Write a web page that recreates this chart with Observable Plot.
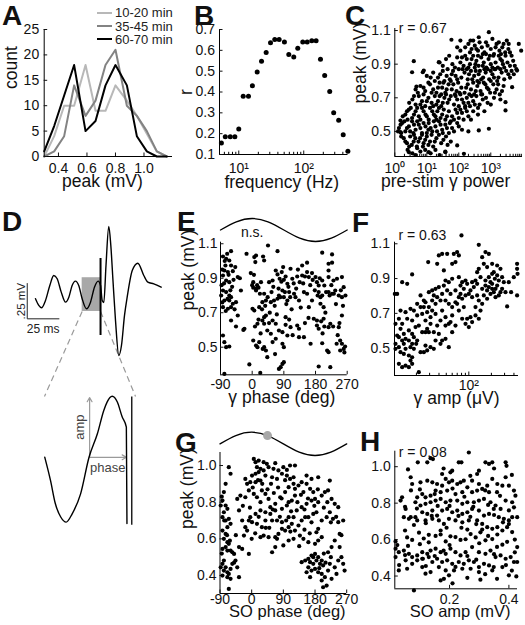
<!DOCTYPE html>
<html><head><meta charset="utf-8">
<script src="https://cdn.jsdelivr.net/npm/d3@7"></script>
<script src="https://cdn.jsdelivr.net/npm/@observablehq/plot@0.6"></script>
<style>
html,body{margin:0;padding:0;background:#fff;}
#root{position:relative;width:525px;height:625px;overflow:hidden;font-family:"Liberation Sans",Arial,Helvetica,sans-serif;}
#root svg{position:absolute;left:0;top:0;background:transparent !important;}
.letter{position:absolute;font-weight:bold;font-size:28px;line-height:28px;color:#111;}
.leg{position:absolute;font-size:13px;line-height:13px;color:#222;white-space:nowrap;}
.legline{position:absolute;height:2px;width:15px;}
</style></head><body><div id="root"></div>
<script>
// ---------------- DATA ----------------
// A: histogram of peak (mV)
const histBins = [0.30,0.37,0.44,0.51,0.59,0.66,0.73,0.80,0.88,0.95,1.02,1.09,1.16];
const count10to20 = [0,4,10,10,18,9,9,14,11,8,4.5,1,0];
const count35to45 = [0,1,4,14,8,11,18,21,10,8,5,1,0];
const count60to70 = [1,6,12,18,5,7,14,18,14,4,1,0,0];
const seriesNames = ["10-20 min","35-45 min","60-70 min"];
const seriesColors = ["#b8b8b8","#838383","#000000"];

// B: correlation vs frequency
const freqHz = [5.4,6.2,7.4,8.7,10,11.7,14.1,16.2,19.2,22.4,26.4,30.8,35.8,41.8,50.4,58.9,70.2,80.9,96.6,113,133,155,181,210,251,289,345,405,478];
const corrR = [0.155,0.185,0.185,0.185,0.223,0.38,0.38,0.43,0.496,0.548,0.59,0.636,0.652,0.652,0.64,0.58,0.568,0.61,0.64,0.64,0.646,0.646,0.557,0.479,0.403,0.3,0.264,0.195,0.116];
const bMajorTicks = [10,100];
const bMinorTicks = [6,7,8,9,20,30,40,50,60,70,80,90,200,300,400];

// C: [log10 pre-stim gamma power, peak mV]
const cPoints = [
[2.2,1.0],[2.35,0.97],[2.5,1.01],[2.6,0.98],[2.72,1.0],[2.8,0.97],[2.9,1.01],[3.0,0.99],[3.1,0.96],[3.18,1.02],[3.27,0.98],[3.36,1.0],[3.45,0.97],[3.55,0.99],[3.25,1.03],[2.45,1.04],[3.05,1.05],[2.65,1.03],[2.05,0.98],[1.95,1.0],
[1.6,0.93],[1.8,0.9],[1.95,0.94],[2.05,0.91],[2.15,0.89],[2.25,0.93],[2.35,0.9],[2.45,0.95],[2.55,0.92],[2.62,0.89],[2.7,0.94],[2.78,0.91],[2.86,0.88],[2.93,0.93],[3.0,0.9],[3.08,0.95],[3.15,0.91],[3.22,0.88],[3.3,0.93],[3.38,0.9],[3.46,0.95],[3.52,0.91],[3.6,0.89],[3.7,0.92],[3.8,0.87],[1.4,0.91],[2.5,0.88],[3.12,0.87],[2.2,0.95],[2.85,0.96],
[1.2,0.85],[1.35,0.82],[1.5,0.86],[1.62,0.83],[1.72,0.81],[1.82,0.86],[1.9,0.83],[2.0,0.87],[2.08,0.82],[2.18,0.85],[2.28,0.81],[2.38,0.86],[2.48,0.83],[2.58,0.8],[2.66,0.86],[2.76,0.82],[2.84,0.85],[2.95,0.81],[3.05,0.84],[3.14,0.87],[3.24,0.82],[3.34,0.85],[3.42,0.81],[3.55,0.84],[3.65,0.86],[1.55,0.8],[2.25,0.87],[2.9,0.87],[3.2,0.8],[1.0,0.83],
[0.8,0.77],[0.95,0.74],[1.1,0.78],[1.2,0.75],[1.3,0.73],[1.4,0.79],[1.48,0.76],[1.58,0.73],[1.68,0.78],[1.78,0.75],[1.88,0.72],[1.98,0.79],[2.08,0.76],[2.18,0.73],[2.28,0.78],[2.38,0.75],[2.48,0.72],[2.58,0.77],[2.68,0.74],[2.78,0.79],[2.88,0.76],[2.98,0.73],[3.08,0.78],[3.18,0.75],[3.28,0.72],[3.4,0.77],[1.05,0.79],[1.75,0.8],[2.45,0.79],[3.0,0.8],[0.65,0.75],[1.25,0.8],
[0.55,0.69],[0.65,0.66],[0.75,0.71],[0.85,0.68],[0.95,0.65],[1.05,0.7],[1.15,0.67],[1.25,0.71],[1.35,0.68],[1.45,0.65],[1.55,0.7],[1.65,0.67],[1.75,0.71],[1.85,0.66],[1.95,0.69],[2.05,0.72],[2.15,0.67],[2.25,0.7],[2.35,0.65],[2.45,0.68],[2.55,0.71],[2.65,0.66],[2.75,0.69],[2.9,0.67],[3.1,0.7],[3.3,0.69],[0.9,0.72],[1.6,0.72],[2.0,0.65],[2.6,0.64],
[0.33,0.6],[0.44,0.63],[0.54,0.58],[0.65,0.62],[0.75,0.59],[0.85,0.64],[0.96,0.6],[1.06,0.57],[1.17,0.62],[1.27,0.59],[1.38,0.64],[1.48,0.6],[1.58,0.57],[1.69,0.62],[1.79,0.59],[1.9,0.63],[2.0,0.58],[2.1,0.61],[2.2,0.64],[2.3,0.59],[2.45,0.62],[2.6,0.6],[2.8,0.62],[0.5,0.64],[1.1,0.64],[1.75,0.56],[0.4,0.57],[1.3,0.57],[2.15,0.57],
[0.13,0.52],[0.23,0.55],[0.33,0.5],[0.44,0.53],[0.54,0.56],[0.65,0.51],[0.75,0.54],[0.85,0.49],[0.96,0.53],[1.06,0.55],[1.17,0.5],[1.27,0.53],[1.38,0.56],[1.48,0.51],[1.58,0.54],[1.69,0.49],[1.79,0.52],[1.95,0.55],[2.1,0.51],[2.3,0.5],[0.3,0.56],[0.7,0.56],[1.0,0.49],[1.5,0.49],[0.2,0.49],
[0.28,0.46],[0.38,0.43],[0.48,0.47],[0.59,0.44],[0.69,0.41],[0.79,0.46],[0.9,0.43],[1.0,0.47],[1.1,0.44],[1.2,0.41],[1.3,0.46],[1.45,0.43],[1.6,0.47],[1.75,0.44],[0.45,0.41],[0.85,0.48],[1.15,0.48],[0.6,0.48],
[0.4,0.39],[0.55,0.37],[0.7,0.4],[0.8,0.38],[0.95,0.39],[1.12,0.37],[1.27,0.39],[1.58,0.38],[0.65,0.36],[1.4,0.36],
[3.95,0.98],[3.875,1.02],[3.56,1.02],[2.94,1.09],[2.625,1.06],[2.365,1.04],[2.05,1.04],[1.77,1.045],[1.375,0.912],[0.906,0.862],[0.875,0.852],[0.594,0.918],[0.54,0.852],[0.677,0.767],[0.177,0.565],[0.177,0.496],[0.44,0.377],[1.06,0.377],[1.58,0.377],[1.95,0.417],[2.16,0.367],[2.625,0.506],[2.94,0.516],[3.46,0.625],[3.46,0.674],[3.667,0.763],[3.82,0.862],
[2.3,1.02],[2.55,0.99],[2.85,1.03],[3.15,1.0],[3.4,1.02],[3.6,0.97],[2.75,0.96],[3.32,0.96],[2.4,0.99],[3.5,1.04],
[1.7,0.95],[1.88,0.88],[2.1,0.94],[2.3,0.88],[2.4,0.93],[2.6,0.95],[2.75,0.89],[2.97,0.95],[3.05,0.88],[3.25,0.95],[3.42,0.88],[3.65,0.95],[3.75,0.89],[1.5,0.89],[2.52,0.9],[3.35,0.92],
[1.42,0.84],[1.65,0.87],[1.78,0.84],[1.95,0.81],[2.12,0.87],[2.32,0.84],[2.42,0.81],[2.53,0.86],[2.7,0.81],[2.8,0.87],[3.0,0.86],[3.1,0.82],[3.3,0.87],[3.48,0.86],[3.6,0.82],[3.72,0.84],[1.12,0.82],[2.62,0.84],
[0.9,0.76],[1.15,0.73],[1.35,0.76],[1.52,0.79],[1.62,0.75],[1.83,0.78],[1.93,0.74],[2.02,0.73],[2.23,0.76],[2.33,0.72],[2.53,0.74],[2.63,0.79],[2.73,0.72],[2.83,0.78],[2.93,0.75],[3.13,0.73],[3.23,0.78],[3.35,0.74],[0.72,0.73],[1.45,0.72],
[0.6,0.71],[0.8,0.66],[1.0,0.68],[1.2,0.65],[1.4,0.71],[1.5,0.67],[1.7,0.69],[1.9,0.71],[2.1,0.69],[2.3,0.67],[2.4,0.71],[2.5,0.66],[2.7,0.72],[2.85,0.7],[3.0,0.66],[0.45,0.67],[1.3,0.66],[2.2,0.65],
[0.38,0.62],[0.6,0.6],[0.8,0.57],[0.9,0.62],[1.0,0.59],[1.22,0.6],[1.43,0.58],[1.53,0.63],[1.63,0.59],[1.85,0.57],[1.95,0.61],[2.05,0.63],[2.25,0.62],[2.38,0.57],[0.7,0.64],[0.25,0.59],[1.33,0.62],
[0.18,0.54],[0.38,0.52],[0.48,0.5],[0.6,0.54],[0.8,0.52],[0.9,0.55],[1.12,0.52],[1.22,0.56],[1.32,0.5],[1.43,0.54],[1.63,0.52],[1.72,0.55],[1.85,0.5],[2.0,0.53],[0.1,0.5],[0.58,0.49],[1.05,0.51],
[0.33,0.44],[0.53,0.42],[0.64,0.46],[0.74,0.44],[0.95,0.45],[1.05,0.42],[1.25,0.44],[1.38,0.48],[1.52,0.45],[0.2,0.47],[0.88,0.41],[1.65,0.42]
];
const cMajorTicks = [1,10,100,1000];
const cMinorTicks = [2,3,4,5,6,7,8,9,20,30,40,50,60,70,80,90,200,300,400,500,600,700,800,900,2000,3000,4000,5000,6000,7000,8000,9000];

// D: example trace (ms, mV) and zoomed segment
const traceMs = [0,2.6,4.7,7.9,11.3,14.4,17.1,20.3,23.7,26.3,28.9,31.5,34.1,36.8,40.2,43.4,46.5,49.4,51.3,52.6,53.9,55.6,57.8,59.4,61.1,63.1,65.7,67.8,70.2,72.3,76.3,80.7,85.4,88.6,93.3,99.1];
const traceMv = [0.012,-0.035,-0.052,0,0.106,0.177,0.154,0.059,-0.012,0.023,0.106,0.137,0.106,0.012,-0.059,-0.012,0.094,0.137,0.106,0,-0.014,0.248,0.524,0.39,0.142,-0.142,-0.39,-0.319,-0.106,0.023,0.212,0.264,0.177,0.13,0.118,0.094];
const stimMs = 51.3;
const stimMv = [-0.248,0.297];
const windowMs = [36.8,51.3];
const windowMv = [-0.078,0.161];
const barOriginMs = -6.5, barOriginMv = -0.13, barMs = 25, barMv = 0.25;
const insetMs = [36.85,37.8,38.6,39.5,40.4,41.4,42.8,44.2,45.6,46.65,47.2,48.05,48.9,49.7,50.4,50.5];
const insetMv = [0.042,0.006,-0.03,-0.051,-0.059,-0.046,-0.015,0.042,0.079,0.115,0.128,0.137,0.128,0.105,0.089,-0.061];
const insetStimMv = [-0.064,0.136];
const ampArrow = {ms: 44.3, from: 0.042, to: 0.135};
const phaseArrow = {mv: 0.042, from: 44.3, to: 50.4};

// E: [gamma phase (deg), peak mV]
const ePoints = [
[45,1.09],[72,1.057],[-16,1.042],[11,1.032],[-60,1.057],[-71,1.042],[199,1.048],[227,1.038],[-83,1.026],[-74,1.013],[-65,1.003],[6,1.023],[9,0.994],[31,1.026],[34,1.003],[156,0.99],[142,0.974],[227,0.99],[217,0.984],[-76,0.974],[-60,0.974],[-48,0.965],[88,0.965],[109,0.955],[67,0.945],[217,0.945],[-79,0.945],[-69,0.936],[-55,0.941],[-41,0.907],[-83,0.916],[-74,0.887],[-65,0.877],[-53,0.891],[-4,0.93],[3,0.877],[11,0.839],[18,0.845],[25,0.877],[48,0.877],[58,0.887],[72,0.922],[84,0.936],[95,0.91],[100,0.868],[78,0.897],[90,0.891],[114,0.897],[128,0.91],[135,0.877],[170,0.93],[180,0.907],[184,0.877],[189,0.858],[199,0.887],[205,0.858],[217,0.907],[231,0.887],[241,0.897],[255,0.907],[260,0.848],[142,0.916],[156,0.936],[161,0.907],
[-83,0.829],[-74,0.82],[-65,0.8],[-88,0.8],[-79,0.771],[-65,0.771],[-55,0.752],[-46,0.761],[-32,0.829],[-83,0.732],[-69,0.723],[-60,0.732],[3,0.845],[11,0.829],[34,0.81],[39,0.771],[53,0.761],[62,0.771],[72,0.781],[76,0.8],[86,0.829],[90,0.79],[100,0.771],[105,0.82],[119,0.81],[123,0.79],[133,0.771],[147,0.82],[156,0.81],[161,0.732],[170,0.771],[189,0.82],[194,0.79],[199,0.8],[217,0.82],[227,0.81],[236,0.829],[246,0.8],[255,0.79],[203,0.732],[194,0.752],[1,0.723],[6,0.713],[20,0.732],[29,0.761],
[-41,0.684],[-60,0.655],[-46,0.62],[-22,0.607],[15,0.636],[29,0.655],[34,0.674],[39,0.684],[34,0.636],[43,0.597],[53,0.578],[58,0.655],[67,0.636],[76,0.597],[86,0.587],[95,0.674],[109,0.616],[128,0.626],[133,0.607],[147,0.558],[175,0.665],[184,0.655],[184,0.626],[189,0.607],[203,0.665],[217,0.616],[222,0.636],[246,0.616],[255,0.684],
[-83,0.568],[-79,0.529],[-65,0.504],[-74,0.5],[3,0.539],[11,0.51],[15,0.5],[20,0.529],[34,0.5],[39,0.481],[67,0.549],[86,0.52],[90,0.5],[100,0.568],[133,0.558],[166,0.52],[199,0.523],[213,0.481],[217,0.471],[250,0.539],[255,0.52],[260,0.49],[250,0.481],[264,0.504],[43,0.442],[81,0.384],[86,0.403],[90,0.413],[-8,0.4],[23,0.351],[189,0.388],[222,0.384],[-79,0.345],[76,0.374],
[-87,0.86],[-80,0.87],[-70,0.78],[-62,0.83],[-85,0.76],[-75,0.71],[-50,0.72],[-57,0.85],[-35,0.9],[-25,0.6],[0,0.86],[5,0.92],[14,0.86],[22,0.81],[28,0.72],[37,0.74],[44,0.79],[50,0.7],[55,0.82],[60,0.85],[64,0.74],[70,0.69],[75,0.84],[80,0.79],[83,0.88],[93,0.82],[97,0.75],[103,0.85],[108,0.79],[112,0.72],[118,0.87],[125,0.84],[130,0.95],[138,0.73],[145,0.87],[150,0.91],[165,0.86],[172,0.89],[178,0.83],[186,0.8],[192,0.9],[196,0.65],[205,0.62],[210,0.82],[220,0.8],[225,0.86],[232,0.81],[238,0.75],[243,0.57],[248,0.64],[252,0.83],[258,0.74],[262,0.47],[265,0.8],[-60,0.79],[-67,0.92],[-85,0.95],[-78,1.0],[8,0.62],[18,0.66],[24,0.58],[30,0.49],[48,0.64],[58,0.53],[65,0.46],[95,0.63],[105,0.66],[115,0.57],[150,0.64],[160,0.67],[200,0.58],[208,0.7],[230,0.62],[240,0.52]
];
// reference cosine of the phase axis (key points)
const wavePhase = [-90,-45,0,45,90,135,180,225,270];
const waveValue = [0,0.71,1,0.71,0,-0.71,-1,-0.71,0];
const phaseTicks = [-90,0,90,180,270];

// F: [log10 gamma amp (uV), peak mV]
const fPoints = [
[1.902,1.148],[2.133,1.094],[1.6,1.033],[1.644,1.042],[1.711,1.042],[1.8,1.042],[1.844,1.052],[1.867,1.033],[1.822,0.995],[1.778,0.985],[1.458,0.995],[1.667,0.947],[1.578,0.985],[2.178,1.023],[2.222,1.052],[2.267,1.042],[2.2,0.985],[2.244,0.966],[2.311,0.985],[2.378,0.975],[2.422,0.956],[2.333,0.937],[2.133,0.956],[2.111,0.937],[2.156,0.908],[2.089,0.889],[2.044,0.879],[2.644,0.985],[2.644,0.956],[2.65,0.927],
[1.111,0.879],[1.178,0.87],[1.244,0.924],[1.867,0.908],[1.911,0.879],[1.956,0.889],[1.889,0.86],[1.778,0.899],[1.733,0.879],[1.689,0.889],[1.667,0.86],[1.6,0.851],[1.556,0.841],[1.511,0.832],[1.467,0.822],[1.533,0.803],[1.578,0.793],[1.622,0.774],[1.644,0.812],
[2.222,0.889],[2.267,0.908],[2.289,0.879],[2.311,0.87],[2.347,0.899],[2.378,0.918],[2.4,0.889],[2.444,0.908],[2.467,0.879],[2.222,0.86],[2.267,0.851],[2.311,0.841],[2.244,0.832],[2.289,0.812],[2.333,0.822],[2.356,0.841],[2.422,0.822],[2.489,0.822],[2.564,0.822],
[1.013,0.812],[1.044,0.812],[1.356,0.803],[1.4,0.774],[1.311,0.755],[1.356,0.736],[1.422,0.764],[1.467,0.736],[1.511,0.774],[1.556,0.755],[1.689,0.774],[1.733,0.755],[1.778,0.736],[1.822,0.764],[1.867,0.793],[1.911,0.784],[1.956,0.803],[2.0,0.812],[2.044,0.793],[2.111,0.803],[2.133,0.774],[2.178,0.755],[2.156,0.716],[2.089,0.736],[2.511,0.74],[2.644,0.803],
[1.089,0.716],[1.156,0.707],[1.222,0.726],[1.267,0.716],[1.311,0.688],[1.378,0.697],[1.489,0.678],[1.556,0.697],[1.644,0.716],[1.778,0.688],[1.867,0.716],[1.911,0.669],[1.978,0.669],[2.022,0.678],[1.956,0.64],[2.0,0.621],[2.044,0.65],
[1.067,0.669],[1.111,0.64],[1.178,0.669],[1.244,0.659],[1.289,0.621],[1.333,0.63],[1.422,0.659],[1.444,0.611],[1.489,0.64],[1.578,0.63],[1.622,0.659],[1.689,0.63],[1.778,0.592],
[1.022,0.64],[1.089,0.611],[1.133,0.582],[1.2,0.602],[1.244,0.582],[1.378,0.592],[1.467,0.592],[1.556,0.544],[1.044,0.573],[1.067,0.563],[1.111,0.544],[1.156,0.554],[1.2,0.544],[1.267,0.563],[1.311,0.544],
[1.022,0.525],[1.067,0.506],[1.133,0.525],[1.156,0.496],[1.222,0.506],[1.244,0.525],[1.267,0.496],[1.022,0.496],[1.089,0.477],[1.133,0.467],[1.2,0.458],[1.244,0.448],[1.444,0.487],[1.489,0.506],[1.533,0.496],[1.644,0.544],[1.689,0.554],[1.733,0.506],[1.622,0.525],[1.422,0.515],[1.4,0.477],[1.356,0.477],
[1.067,0.41],[1.111,0.391],[1.156,0.4],[1.2,0.391],[1.244,0.41],[1.222,0.429],[1.298,0.525],[1.333,0.362],[1.422,0.592],
[1.711,0.832],[1.756,0.812],[1.822,0.832],[1.933,0.841],[1.978,0.87],[2.022,0.832],[2.067,0.851],[2.111,0.87],[2.178,0.841],[2.2,0.803],[2.244,0.784],[2.356,0.793],[2.4,0.803],[2.444,0.841],[2.533,0.879],[2.6,0.908],[2.378,0.86],[2.311,0.927],[1.889,0.812],[1.844,0.755],[1.933,0.736],[2.089,0.688],[2.133,0.669],[1.822,0.63],[1.733,0.64],[1.533,0.592],[1.6,0.582],[1.689,0.678],[1.756,0.65],[1.444,0.707],[1.4,0.736],[1.511,0.716]
];
const fMajorTicks = [100];
const fMinorTicks = [20,30,40,50,60,70,80,90,200,300,400];

// G: [SO phase (deg), peak mV]
const gPoints = [
[6,1.036],[11,1.018],[20,1.027],[34,1.018],[43,1.009],[67,1.013],[15,0.991],[25,0.982],[1,0.945],[11,0.955],[20,0.964],[34,0.973],[48,0.991],[62,0.982],[76,0.973],[90,0.991],[100,0.976],[109,1.0],[123,1.0],[119,0.936],[109,0.927],[86,0.955],[100,0.945],[72,0.927],[58,0.936],[39,0.945],[25,0.918],[11,0.909],[-4,0.909],[-13,0.9],[-18,0.927],
[-65,0.991],[-60,0.955],[-74,0.9],[-79,0.855],[-83,0.809],[-88,0.782],[-74,0.782],[-69,0.764],[-79,0.745],[-83,0.718],[-74,0.7],[-65,0.709],[-60,0.682],[-69,0.664],[-83,0.645],[-74,0.627],[-79,0.6],[-69,0.582],[-65,0.573],[-74,0.555],[-83,0.545],[-69,0.536],[-60,0.536],[-55,0.527],[-50,0.518],[-79,0.482],[-83,0.464],[-74,0.445],[-88,0.445],[-79,0.427],[-69,0.418],[-60,0.436],[-65,0.409],[-83,0.4],[-69,0.391],[-60,0.382],[-41,0.445],[-36,0.391],[-65,0.327],[-55,0.464],[-46,0.482],[-36,0.555],[-27,0.545],[-22,0.618],[-13,0.645],[-8,0.7],[-18,0.664],[-27,0.7],[-36,0.755],[-41,0.818],[-32,0.836],[-18,0.827],[-8,0.864],
[6,0.845],[15,0.827],[25,0.8],[29,0.864],[39,0.845],[48,0.818],[53,0.773],[67,0.791],[81,0.827],[95,0.855],[105,0.882],[119,0.9],[123,0.873],[133,0.891],[142,0.909],[156,0.9],[166,0.873],[175,0.855],[147,0.855],[123,0.836],[114,0.809],[100,0.782],[86,0.764],[67,0.755],[53,0.736],[39,0.745],[25,0.755],[11,0.736],[-4,0.718],[1,0.691],[15,0.682],[29,0.664],[39,0.7],[58,0.7],[72,0.7],[86,0.691],[105,0.718],[119,0.718],[128,0.755],[142,0.773],[156,0.791],[170,0.809],[180,0.818],[189,0.8],[199,0.836],[208,0.855],[217,0.864],[227,0.818],[236,0.791],[246,0.773],[222,0.918],[189,0.936],[170,0.927],[156,0.945],
[25,0.609],[34,0.618],[48,0.609],[67,0.609],[76,0.627],[86,0.655],[95,0.645],[105,0.664],[114,0.682],[123,0.645],[133,0.673],[142,0.7],[152,0.718],[161,0.718],[175,0.736],[184,0.745],[199,0.7],[213,0.718],[222,0.745],[231,0.709],[246,0.691],[260,0.7],[184,0.636],[189,0.655],[199,0.609],[189,0.591],[180,0.573],[161,0.582],[147,0.6],[137,0.618],[119,0.6],[105,0.591],[90,0.564],[67,0.555],[58,0.527],[-8,0.518],
[142,0.473],[152,0.482],[161,0.491],[166,0.473],[170,0.509],[180,0.518],[175,0.464],[184,0.482],[189,0.5],[194,0.464],[199,0.482],[203,0.455],[161,0.445],[170,0.427],[180,0.436],[189,0.418],[199,0.409],[208,0.391],[217,0.427],[222,0.464],[227,0.382],[156,0.418],[166,0.391],[199,0.373],[213,0.345],[203,0.336],[236,0.445],[246,0.482],[250,0.555],[255,0.5],[260,0.464],[264,0.427],[241,0.409],[217,0.527],[227,0.555],[236,0.591],[250,0.627],
[-85,0.83],[-78,0.7],[-70,0.62],[-85,0.52],[-62,0.59],[-5,0.77],[3,0.88],[18,0.92],[30,0.9],[45,0.87],[55,0.9],[63,0.85],[75,0.88],[85,0.82],[95,0.92],[105,0.8],[112,0.75],[130,0.8],[140,0.84],[150,0.76],[160,0.82],[170,0.69],[178,0.78],[188,0.87],[205,0.77],[215,0.8],[225,0.69],[240,0.72],[255,0.62],[0,0.6],[10,0.63],[20,0.72],[40,0.66],[50,0.66],[60,0.76],[72,0.6],[80,0.72],[98,0.7],[110,0.64],[135,0.56],[150,0.65],[165,0.63],[205,0.52],[210,0.47],[225,0.5],[192,0.44],[175,0.5],[-25,0.78],[-45,0.62],[-50,0.47]
];
const soMarkerPhase = 45, soMarkerValue = 0.71;

// H: [SO amp (mV), peak mV]
const hPoints = [
[0.136,1.047],[0.144,1.042],[0.125,1.024],[0.231,1.024],[0.24,1.024],[0.265,1.078],[0.321,1.024],[0.333,1.015],[0.344,1.024],[0.389,1.024],[0.392,1.005],[0.299,0.978],[0.293,0.96],[0.209,0.978],[0.203,0.969],[0.175,0.96],[0.187,0.933],[0.125,0.923],[0.093,1.024],[0.069,0.942],[0.074,0.905],[0.102,0.914],[0.142,0.914],[0.158,0.905],[0.175,0.896],[0.198,0.914],[0.209,0.923],[0.226,0.905],[0.237,0.914],[0.248,0.923],[0.26,0.887],[0.276,0.923],[0.299,0.905],[0.31,0.878],[0.327,0.896],[0.344,0.933],[0.361,0.905],[0.378,0.896],[0.389,0.942],[0.4,0.896],[0.417,0.869],[0.422,0.841],[0.333,0.86],[0.293,0.869],[0.276,0.86],[0.243,0.86],[0.22,0.85],[0.192,0.869],[0.17,0.86],[0.153,0.869],[0.136,0.841],[0.119,0.832],[0.108,0.85],[0.091,0.832],
[0.085,0.805],[0.102,0.787],[0.119,0.796],[0.136,0.805],[0.153,0.814],[0.17,0.823],[0.187,0.805],[0.203,0.814],[0.226,0.814],[0.243,0.796],[0.26,0.805],[0.282,0.805],[0.299,0.814],[0.316,0.823],[0.338,0.805],[0.355,0.787],[0.372,0.768],[0.389,0.814],[0.411,0.805],[0.417,0.777],[0.04,0.832],[0.035,0.814],[0.052,0.768],[0.069,0.723],[0.085,0.723],[0.108,0.75],[0.125,0.741],[0.142,0.759],[0.158,0.732],[0.175,0.759],[0.192,0.768],[0.209,0.75],[0.226,0.759],[0.243,0.741],[0.26,0.75],[0.276,0.768],[0.299,0.759],[0.316,0.732],[0.333,0.741],[0.349,0.768],[0.366,0.723],[0.383,0.714],[0.4,0.705],[0.411,0.723],[0.428,0.723],
[0.046,0.723],[0.063,0.714],[0.091,0.705],[0.119,0.705],[0.142,0.714],[0.164,0.705],[0.181,0.686],[0.198,0.714],[0.22,0.705],[0.243,0.695],[0.265,0.705],[0.293,0.705],[0.31,0.686],[0.327,0.668],[0.344,0.659],[0.361,0.668],[0.378,0.65],[0.394,0.668],[0.411,0.641],
[0.018,0.59],[0.024,0.57],[0.057,0.612],[0.074,0.598],[0.097,0.638],[0.113,0.606],[0.13,0.626],[0.153,0.62],[0.17,0.628],[0.187,0.59],[0.203,0.618],[0.22,0.614],[0.237,0.598],[0.254,0.602],[0.271,0.63],[0.288,0.612],[0.304,0.64],[0.321,0.596],[0.344,0.603],[0.361,0.628],[0.378,0.572],[0.394,0.588],[0.428,0.559],
[0.018,0.55],[0.029,0.531],[0.046,0.54],[0.063,0.522],[0.074,0.504],[0.091,0.513],[0.108,0.531],[0.125,0.522],[0.136,0.54],[0.153,0.55],[0.17,0.531],[0.187,0.522],[0.203,0.55],[0.22,0.531],[0.237,0.513],[0.254,0.531],[0.276,0.559],[0.299,0.531],[0.321,0.522],[0.338,0.54],[0.355,0.504],[0.372,0.513],[0.389,0.495],[0.406,0.504],[0.417,0.477],[0.428,0.477],
[0.018,0.504],[0.052,0.486],[0.074,0.467],[0.091,0.486],[0.108,0.495],[0.13,0.504],[0.142,0.477],[0.158,0.495],[0.175,0.477],[0.192,0.486],[0.209,0.467],[0.231,0.477],[0.248,0.467],[0.265,0.486],[0.282,0.477],[0.299,0.449],[0.316,0.467],[0.333,0.458],[0.349,0.449],[0.378,0.449],
[0.029,0.431],[0.057,0.44],[0.108,0.449],[0.136,0.422],[0.164,0.449],[0.187,0.431],[0.215,0.431],[0.243,0.44],[0.271,0.44],[0.299,0.422],[0.344,0.431],[0.4,0.404],[0.425,0.398],[0.08,0.321],[0.181,0.385],[0.17,0.376],[0.198,0.404],[0.304,0.38],[0.119,0.413],
[0.06,0.985],[0.18,0.99],[0.27,0.95],[0.35,0.99],[0.41,0.955],[0.1,0.875],[0.21,0.88],[0.32,0.87],[0.37,0.84],[0.05,0.78],[0.16,0.785],[0.28,0.78],[0.35,0.735],[0.23,0.73],[0.12,0.69],[0.29,0.685],[0.4,0.685],[0.05,0.65],[0.17,0.65],[0.26,0.655],[0.33,0.62],[0.42,0.6],[0.1,0.575],[0.2,0.57],[0.3,0.58],[0.36,0.56],[0.06,0.565],[0.15,0.51],[0.26,0.51],[0.39,0.46],[0.22,0.45],[0.12,0.455],[0.32,0.41],[0.26,0.39],[0.36,0.385],[0.21,0.36],[0.41,0.43],[0.03,0.46],[0.13,0.585],[0.24,0.665],
[0.08,0.68],[0.19,0.665],[0.31,0.655],[0.38,0.695],[0.14,0.73],[0.27,0.725],[0.2,0.785],[0.33,0.79],[0.09,0.77],[0.4,0.76],[0.25,0.835],[0.15,0.85],[0.36,0.86],[0.07,0.87],[0.29,0.49],[0.11,0.495],[0.35,0.52],[0.18,0.54],[0.42,0.53],[0.05,0.515]
];

// ---------------- LAYOUT / HELPERS ----------------
const FONT = '"Liberation Sans", Arial, Helvetica, sans-serif';
const W = 525, H = 625;
const INK = "#111";
const root = document.getElementById("root");

function panel(frame, options) {
  const [l, t, r, b] = frame;
  const svg = Plot.plot({
    width: W, height: H,
    marginLeft: l, marginTop: t, marginRight: W - r, marginBottom: H - b,
    style: {fontFamily: FONT, fontSize: "14px", color: INK, background: "transparent", overflow: "visible"},
    ...options
  });
  root.appendChild(svg);
  return svg;
}
function axisMarks({xTicks, xFormat, xPad, yTicks, yFormat, yPad, xMin, yMin}) {
  return [
    Plot.ruleX([xMin], {stroke: "#000", strokeWidth: 1}),
    Plot.ruleY([yMin], {stroke: "#000", strokeWidth: 1}),
    Plot.axisX({ticks: xTicks, tickFormat: xFormat, tickSize: -3.5, tickPadding: xPad, label: null, fontSize: 14}),
    Plot.axisY({ticks: yTicks, tickFormat: yFormat, tickSize: -3.5, tickPadding: yPad, label: null, fontSize: 14})
  ];
}
// short inward minor ticks along the bottom of a frame of the given pixel height
function minorTicks(values, frameHeight) {
  return Plot.tickX(values, {x: d => d, insetTop: frameHeight - 2.2, stroke: "#000", strokeWidth: 1});
}
const f1 = d => d.toFixed(1);
const sup = {1: "10\u2070", 10: "10\u00B9", 100: "10\u00B2", 1000: "10\u00B3"};
const supFmt = d => sup[d] ?? "";
const LBL = 17.5;
function yTitle(text, dx, dy) { return Plot.text([text], {text: d => d, frameAnchor: "left", dx, dy, rotate: -90, fontSize: LBL, fill: INK}); }
function xTitle(text, dx, dy, size = LBL) { return Plot.text([text], {text: d => d, frameAnchor: "bottom", dx, dy, fontSize: size, fill: INK}); }
function note(text, dx, dy) { return Plot.text([text], {text: d => d, frameAnchor: "top-left", textAnchor: "start", dx, dy, fontSize: 14, fill: INK}); }
const dotOpts = {r: 2.1, fill: "#000", stroke: null};

// ---------------- A ----------------
const seriesCounts = [count10to20, count35to45, count60to70];
const rowsA = seriesNames.flatMap((s, i) => histBins.map((b, j) => ({s, bin: b, count: seriesCounts[i][j]})));
panel([43.7, 29, 172, 156], {
  x: {type: "linear", domain: [0.3, 1.2]},
  y: {domain: [0, 25]},
  color: {domain: seriesNames, range: seriesColors},
  marks: [
    Plot.line(rowsA, {x: "bin", y: "count", z: "s", stroke: "s", strokeWidth: 2}),
    ...axisMarks({xTicks: [0.4, 0.6, 0.8, 1.0], xFormat: f1, xPad: 10, yTicks: [0, 5, 10, 15, 20, 25], yFormat: d => String(d), yPad: 8.5, xMin: 0.3, yMin: 0}),
    yTitle("count", -33, -4),
    xTitle("peak (mV)", -6, 30)
  ]
});

// ---------------- B ----------------
const rowsB = freqHz.map((f, i) => ({f, r: corrR[i]}));
panel([219, 29, 347.5, 154], {
  x: {type: "log", domain: [5.05, 480]},
  y: {domain: [0.1, 0.7]},
  marks: [
    ...axisMarks({xTicks: bMajorTicks, xFormat: supFmt, xPad: 12, yTicks: [0.1, 0.2, 0.3, 0.4, 0.5, 0.6, 0.7], yFormat: f1, yPad: 8, xMin: 5.05, yMin: 0.1}),
    minorTicks(bMinorTicks, 125),
    Plot.dot(rowsB, {x: "f", y: "r", r: 2.5, fill: "#000", stroke: null}),
    yTitle("r", -33.5, 3),
    xTitle("frequency (Hz)", -2, 33)
  ]
});

// ---------------- C ----------------
panel([394.3, 28, 522, 156], {
  x: {type: "log", domain: [1, 9800]},
  y: {domain: [0.351, 1.112]},
  marks: [
    ...axisMarks({xTicks: cMajorTicks, xFormat: supFmt, xPad: 10, yTicks: [0.5, 0.7, 0.9, 1.1], yFormat: f1, yPad: 7.5, xMin: 1, yMin: 0.351}),
    minorTicks(cMinorTicks, 128),
    Plot.dot(cPoints, {x: d => 10 ** d[0], y: d => d[1], ...dotOpts}),
    note("r = 0.67", 4, -5),
    yTitle("peak (mV)", -34, 11),
    xTitle("pre-stim \u03B3 power", -13, 30)
  ]
});

// ---------------- D (trace) ----------------
const traceRows = traceMs.map((t, i) => ({t, v: traceMv[i]}));
const insetRows = insetMs.map((t, i) => ({t, v: insetMv[i]}));
const gray = "#9a9a9a";
panel([22.3, 222.3, 161.8, 398.8], {
  x: {domain: [-10, 100], axis: null},
  y: {domain: [-0.7, 0.55], axis: null},
  marks: [
    Plot.rect([0], {x1: windowMs[0], x2: windowMs[1], y1: windowMv[0], y2: windowMv[1], fill: "#a8a8a8"}),
    Plot.link([[windowMs[0], windowMv[0], 7.1, -0.68], [windowMs[1], windowMv[0], 78.9, -0.68]],
      {x1: d => d[0], y1: d => d[1], x2: d => d[2], y2: d => d[3], stroke: gray, strokeDasharray: "6,4", strokeWidth: 1.2}),
    Plot.line(traceRows, {x: "t", y: "v", curve: "monotone-x", stroke: "#000", strokeWidth: 1.4}),
    Plot.ruleX([stimMs], {y1: stimMv[0], y2: stimMv[1], stroke: "#000", strokeWidth: 2}),
    Plot.line([[barOriginMs, barOriginMv + barMv], [barOriginMs, barOriginMv], [barOriginMs + barMs, barOriginMv]],
      {x: d => d[0], y: d => d[1], stroke: "#222", strokeWidth: 1}),
    Plot.text([".25 mV"], {text: d => d, x: barOriginMs, y: barOriginMv + barMv / 2, dx: -6, rotate: -90, fontSize: 11.5, fill: "#222"}),
    Plot.text(["25 ms"], {text: d => d, x: barOriginMs + barMs / 2, y: barOriginMv, dy: 10, fontSize: 12, fill: "#222"})
  ]
});
panel([40, 390, 145, 530], {
  x: {domain: [36.14, 53.58], axis: null},
  y: {domain: [-0.072, 0.146], axis: null},
  marks: [
    Plot.arrow([0], {x1: ampArrow.ms, x2: ampArrow.ms, y1: ampArrow.from, y2: ampArrow.to, stroke: gray, strokeWidth: 1.2, headLength: 6}),
    Plot.arrow([0], {x1: phaseArrow.from, x2: phaseArrow.to, y1: phaseArrow.mv, y2: phaseArrow.mv, stroke: gray, strokeWidth: 1.2, headLength: 6}),
    Plot.line(insetRows, {x: "t", y: "v", curve: "monotone-x", stroke: "#000", strokeWidth: 1.4}),
    Plot.ruleX([stimMs], {y1: insetStimMv[0], y2: insetStimMv[1], stroke: "#000", strokeWidth: 1.3}),
    Plot.text(["amp"], {text: d => d, x: 42.6, y: 0.089, rotate: -90, fontSize: 13, fill: "#444"}),
    Plot.text(["phase"], {text: d => d, x: 47.3, y: 0.026, fontSize: 13, fill: "#444"})
  ]
});

// ---------------- E ----------------
const waveRows = wavePhase.map((p, i) => ({p, w: waveValue[i]}));
panel([220, 218, 346.7, 241], {
  x: {domain: [-90, 270], axis: null},
  y: {domain: [-1, 1], axis: null},
  marks: [
    Plot.line(waveRows, {x: "p", y: "w", curve: "natural", stroke: "#000", strokeWidth: 1.3}),
    Plot.text(["n.s."], {text: d => d, x: 0, y: -0.22, fontSize: 14, fill: INK})
  ]
});
panel([220, 241.7, 346.7, 374.3], {
  x: {domain: [-90, 270]},
  y: {domain: [0.34, 1.109]},
  marks: [
    ...axisMarks({xTicks: phaseTicks, xFormat: d => String(d), xPad: 7.5, yTicks: [0.5, 0.7, 0.9, 1.1], yFormat: f1, yPad: 6.5, xMin: -90, yMin: 0.34}),
    Plot.dot(ePoints, {x: d => d[0], y: d => d[1], ...dotOpts}),
    yTitle("peak (mV)", -32.5, 2),
    xTitle("\u03B3 phase (deg)", -2, 28.5)
  ]
});

// ---------------- F ----------------
panel([394, 241.7, 518, 375], {
  x: {type: "log", domain: [10.2, 460]},
  y: {domain: [0.343, 1.109]},
  marks: [
    ...axisMarks({xTicks: fMajorTicks, xFormat: supFmt, xPad: 8, yTicks: [0.5, 0.7, 0.9, 1.1], yFormat: f1, yPad: 8, xMin: 10.2, yMin: 0.343}),
    minorTicks(fMinorTicks, 133.3),
    Plot.dot(fPoints, {x: d => 10 ** d[0], y: d => d[1], ...dotOpts}),
    note("r = 0.63", 4, -11.7),
    xTitle("\u03B3 amp (\u03BCV)", 0, 28.5)
  ]
});

// ---------------- G ----------------
panel([219.5, 431.7, 346.2, 455], {
  x: {domain: [-90, 270], axis: null},
  y: {domain: [-1, 1], axis: null},
  marks: [
    Plot.line(waveRows, {x: "p", y: "w", curve: "natural", stroke: "#000", strokeWidth: 1.3}),
    Plot.dot([0], {x: soMarkerPhase, y: soMarkerValue, r: 4.5, fill: "#a8a8a8", stroke: null})
  ]
});
panel([219.5, 452, 346.2, 593], {
  x: {domain: [-90, 270]},
  y: {domain: [0.302, 1.071]},
  marks: [
    ...axisMarks({xTicks: phaseTicks, xFormat: d => String(d), xPad: 4, yTicks: [0.4, 0.6, 0.8, 1.0], yFormat: f1, yPad: 7, xMin: -90, yMin: 0.302}),
    Plot.dot(gPoints, {x: d => d[0], y: d => d[1], ...dotOpts}),
    yTitle("peak (mV)", -33, 6),
    xTitle("SO phase (deg)", 4, 23.1, 16.5)
  ]
});

// ---------------- H ----------------
panel([394.3, 450.7, 517, 588.3], {
  x: {domain: [0.0155, 0.429]},
  y: {domain: [0.33, 1.085]},
  marks: [
    ...axisMarks({xTicks: [0.2, 0.4], xFormat: f1, xPad: 8.5, yTicks: [0.4, 0.6, 0.8, 1.0], yFormat: f1, yPad: 7.5, xMin: 0.0155, yMin: 0.33}),
    Plot.dot(hPoints, {x: d => d[0], y: d => d[1], ...dotOpts}),
    note("r = 0.08", 4, -4),
    xTitle("SO amp (mV)", 4, 27.8, 16.5)
  ]
});

// ---------------- legend (A) and panel letters ----------------
seriesNames.forEach((s, i) => {
  const y = 12.7 + i * 13.3;
  const ln = document.createElement("div");
  ln.className = "legline";
  ln.style.left = "97px"; ln.style.top = (y - 1) + "px"; ln.style.background = seriesColors[i];
  root.appendChild(ln);
  const tx = document.createElement("div");
  tx.className = "leg";
  tx.textContent = s;
  tx.style.left = "115px"; tx.style.top = (y - 6.5) + "px";
  root.appendChild(tx);
});
const panelLetters = [["A", 2, 1.7], ["B", 194, 1.7], ["C", 345, 1.7], ["D", 2, 208.3], ["E", 177, 208.3], ["F", 352, 209.3], ["G", 175, 429.3], ["H", 360, 428.3]];
panelLetters.forEach(([t, x, y]) => {
  const el = document.createElement("div");
  el.className = "letter";
  el.textContent = t;
  el.style.left = x + "px"; el.style.top = y + "px";
  root.appendChild(el);
});
</script></body></html>
